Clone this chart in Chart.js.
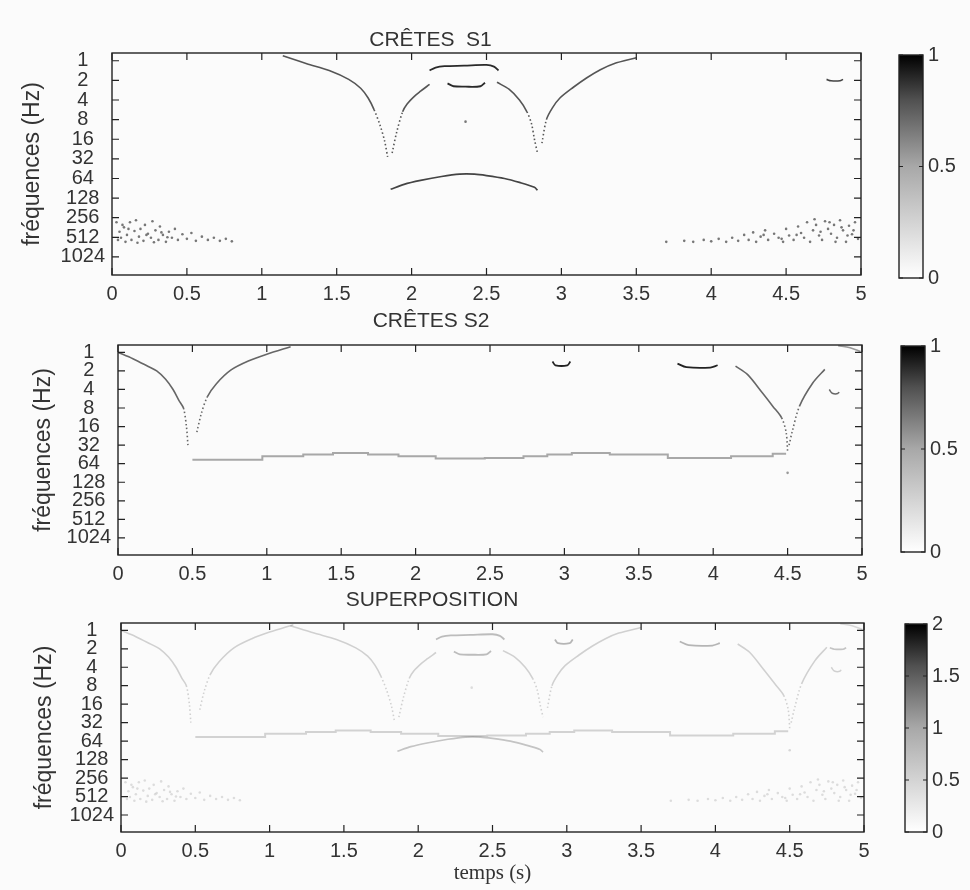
<!DOCTYPE html>
<html>
<head>
<meta charset="utf-8">
<script src="https://cdn.jsdelivr.net/npm/chart.js@4.4.1/dist/chart.umd.min.js"></script>
<style>
  body { margin: 0; background: #fbfbfb; }
  .box { position: absolute; left: 0; top: 0; width: 970px; height: 890px; }
</style>
</head>
<body>
<div class="box"><canvas id="p1"></canvas></div>
<div class="box"><canvas id="c1"></canvas></div>
<div class="box"><canvas id="p2"></canvas></div>
<div class="box"><canvas id="c2"></canvas></div>
<div class="box"><canvas id="p3"></canvas></div>
<div class="box"><canvas id="c3"></canvas></div>
<script>
// axes
const timeTicks = [0, 0.5, 1, 1.5, 2, 2.5, 3, 3.5, 4, 4.5, 5];
const freqTicks = [1, 2, 4, 8, 16, 32, 64, 128, 256, 512, 1024];
const cbTicks1 = [0, 0.5, 1];
const cbTicks3 = [0, 0.5, 1, 1.5, 2];
const fMin = 0.76, fMax = 1937;

// ridges of S1 (time s, frequency Hz)
const s1CuspAT = [1.14, 1.30, 1.45, 1.58, 1.66, 1.71, 1.75, 1.79, 1.82, 1.84];
const s1CuspAF = [0.84, 1.11, 1.41, 1.93, 2.64, 3.73, 5.66, 9.85, 17.1, 29.9];
const s1CuspBT = [1.87, 1.90, 1.94, 1.97, 2.02, 2.06, 2.12];
const s1CuspBF = [26, 12.6, 6.06, 4.6, 3.48, 2.93, 2.3];
const s1TopSegT = [2.12, 2.16, 2.22, 2.35, 2.50, 2.55, 2.58];
const s1TopSegF = [1.41, 1.27, 1.21, 1.19, 1.16, 1.23, 1.41];
const s1MidSegT = [2.24, 2.28, 2.36, 2.46, 2.49];
const s1MidSegF = [2.22, 2.46, 2.5, 2.46, 2.17];
const s1CuspCT = [2.57, 2.65, 2.72, 2.77, 2.80, 2.82, 2.84];
const s1CuspCF = [2.14, 2.73, 4, 6.06, 9.19, 16, 26];
const s1CuspDT = [2.87, 2.90, 2.94, 2.99, 3.08, 3.17, 3.26, 3.35, 3.50];
const s1CuspDF = [18.4, 8, 5.28, 3.73, 2.55, 1.82, 1.37, 1.11, 0.9];
const s1LowArcT = [1.86, 1.95, 2.06, 2.20, 2.32, 2.42, 2.50, 2.62, 2.72, 2.82, 2.84];
const s1LowArcF = [93.7, 78.8, 68.6, 59.7, 55, 55, 57.7, 64, 73.5, 87.4, 97];
const s1HookT = [4.77, 4.80, 4.86, 4.88];
const s1HookF = [1.93, 2.03, 2.03, 1.93];
const s1DotT = [2.36];
const s1DotF = [8.6];
const s1NoiseLT = [0.03, 0.04, 0.05, 0.06, 0.07, 0.08, 0.09, 0.10, 0.11, 0.12, 0.13, 0.15, 0.16, 0.17, 0.18, 0.19, 0.21,
  0.22, 0.23, 0.24, 0.26, 0.27, 0.28, 0.29, 0.31, 0.32, 0.33, 0.34, 0.36, 0.37, 0.38, 0.40, 0.42, 0.44, 0.47, 0.50,
  0.53, 0.56, 0.60, 0.64, 0.68, 0.72, 0.76, 0.80];
const s1NoiseLF = [300, 560, 420, 520, 330, 360, 600, 470, 380, 300, 560, 410, 280, 620, 500, 380, 580,
  330, 470, 450, 520, 290, 610, 400, 560, 350, 430, 470, 600, 510, 420, 520, 380, 560, 460, 540, 440,
  580, 500, 560, 520, 580, 540, 590];
const s1NoiseRT = [3.70, 3.82, 3.88, 3.95, 4.00, 4.05, 4.10, 4.14, 4.18, 4.22, 4.25, 4.28, 4.30, 4.33, 4.36, 4.38, 4.42, 4.45,
  4.48, 4.50, 4.52, 4.55, 4.58, 4.60, 4.62, 4.64, 4.66, 4.68, 4.70, 4.72, 4.74, 4.76, 4.78, 4.80, 4.82, 4.84, 4.86, 4.88,
  4.90, 4.92, 4.94, 4.96, 4.98, 4.69, 4.73, 4.79, 4.83, 4.87, 4.91, 4.95, 4.57, 4.47, 4.35];
const s1NoiseRF = [600, 580, 600, 560, 590, 540, 600, 520, 580, 470, 560, 430, 600, 500, 400, 560, 450, 520,
  600, 380, 480, 560, 350, 440, 520, 300, 600, 400, 330, 480, 560, 290, 380, 450, 330, 520, 280, 400,
  600, 340, 460, 300, 540, 270, 420, 300, 600, 360, 480, 400, 470, 540, 470];

// ridges of S2
const s2CuspAT = [0, 0.10, 0.20, 0.26, 0.32, 0.37, 0.41, 0.44, 0.46, 0.47];
const s2CuspAF = [1, 1.27, 1.68, 2, 2.73, 4, 6.06, 8, 16, 32];
const s2CuspBT = [0.53, 0.56, 0.60, 0.66, 0.76, 0.88, 1.00, 1.16];
const s2CuspBF = [19.7, 9.85, 5.28, 3.25, 1.93, 1.37, 1.07, 0.81];
const s2LineT = [0.5, 0.78, 1.16, 1.33, 1.56, 1.8, 1.97, 2.3, 2.63, 2.82, 2.95, 3.15, 3.46, 3.93, 4.31, 4.49];
const s2LineF = [55, 55, 48.5, 45.3, 42.8, 45.3, 48.5, 52.7, 51.6, 48.5, 45.3, 42.8, 45.3, 51.6, 48.5, 44.3];
const s2SegAT = [2.92, 2.94, 3.02, 3.04];
const s2SegAF = [1.41, 1.62, 1.62, 1.41];
const s2SegBT = [3.76, 3.82, 3.98, 4.03];
const s2SegBF = [1.52, 1.74, 1.77, 1.62];
const s2CuspCT = [4.15, 4.23, 4.33, 4.40, 4.46, 4.49, 4.50];
const s2CuspCF = [1.67, 2.28, 4.53, 7.46, 11.55, 19.7, 39.4];
const s2CuspDT = [4.51, 4.53, 4.58, 4.67, 4.75];
const s2CuspDF = [32, 19.7, 7.46, 3.12, 1.89];
const s2HookT = [4.78, 4.80, 4.84, 4.85];
const s2HookF = [4, 4.6, 4.6, 4];
const s2TopT = [4.84, 4.92, 4.99];
const s2TopF = [0.78, 0.84, 0.97];
const s2DotT = [4.5];
const s2DotF = [90];

function pts(ts, fs) { return ts.map((t, i) => ({ x: t, y: fs[i] })); }

function steep(c) {
  return Math.abs(c.p1.y - c.p0.y) > 2 * Math.abs(c.p1.x - c.p0.x);
}

function ridge(ts, fs, color, width, stepped) {
  return {
    data: pts(ts, fs), showLine: true, borderColor: color, borderWidth: width || 1.6,
    pointRadius: 0, tension: stepped ? 0 : 0.3, stepped: stepped || false,
    segment: { borderDash: c => steep(c) ? [1.5, 2.5] : undefined }
  };
}

function cloud(ts, fs, color) {
  return { data: pts(ts, fs), showLine: false, pointRadius: 1.3, pointBorderWidth: 0, backgroundColor: color };
}

function s1Sets(arc, seg, low, noise) {
  return [
    ridge(s1CuspAT, s1CuspAF, arc), ridge(s1CuspBT, s1CuspBF, arc),
    ridge(s1CuspCT, s1CuspCF, arc), ridge(s1CuspDT, s1CuspDF, arc),
    ridge(s1TopSegT, s1TopSegF, seg, 1.8), ridge(s1MidSegT, s1MidSegF, seg, 1.8),
    ridge(s1LowArcT, s1LowArcF, low, 1.7), ridge(s1HookT, s1HookF, low, 1.6),
    cloud(s1DotT, s1DotF, noise), cloud(s1NoiseLT, s1NoiseLF, noise), cloud(s1NoiseRT, s1NoiseRF, noise)
  ];
}

function s2Sets(arc, line, seg, light) {
  return [
    ridge(s2CuspAT, s2CuspAF, arc), ridge(s2CuspBT, s2CuspBF, arc),
    ridge(s2CuspCT, s2CuspCF, arc), ridge(s2CuspDT, s2CuspDF, arc),
    ridge(s2LineT, s2LineF, line, 2, 'middle'),
    ridge(s2SegAT, s2SegAF, seg, 1.8), ridge(s2SegBT, s2SegBF, seg, 1.8),
    ridge(s2HookT, s2HookF, arc, 1.5), ridge(s2TopT, s2TopF, light, 1.5),
    cloud(s2DotT, s2DotF, light)
  ];
}

// box and inward tick marks
const frame = {
  id: 'frame',
  afterDatasetsDraw(chart, args, opts) {
    const { ctx, chartArea: a, scales } = chart;
    ctx.save();
    ctx.strokeStyle = '#222';
    ctx.lineWidth = 1.4;
    ctx.strokeRect(a.left, a.top, a.right - a.left, a.bottom - a.top);
    ctx.lineWidth = 1.2;
    ctx.beginPath();
    if (opts.x) {
      scales.x.ticks.forEach(t => {
        const p = scales.x.getPixelForValue(t.value);
        ctx.moveTo(p, a.bottom); ctx.lineTo(p, a.bottom - opts.len);
        ctx.moveTo(p, a.top); ctx.lineTo(p, a.top + opts.len);
      });
    }
    scales.y.ticks.forEach(t => {
      const p = scales.y.getPixelForValue(t.value);
      if (opts.left) { ctx.moveTo(a.left, p); ctx.lineTo(a.left + opts.len, p); }
      if (opts.right) { ctx.moveTo(a.right, p); ctx.lineTo(a.right - opts.len, p); }
    });
    ctx.stroke();
    ctx.restore();
  }
};

const sans = 'Liberation Sans, Arial, sans-serif';
const ink = '#333';

function mainChart(id, area, title, titleY, yTitleX, datasets, xH, xTitle) {
  const padTop = titleY - 12.6;
  const gap = area.top - padTop - 25.2;
  return new Chart(document.getElementById(id), {
    type: 'scatter',
    data: { datasets },
    options: {
      responsive: true, maintainAspectRatio: false, animation: false,
      layout: { padding: { left: 0, top: padTop, right: 970 - area.right, bottom: 890 - area.bottom - xH } },
      plugins: {
        legend: { display: false }, tooltip: { enabled: false },
        title: { display: true, text: title, color: ink, font: { family: sans, size: 21, weight: 'normal' }, padding: { top: 0, bottom: gap } },
        frame: { x: true, left: true, right: true, len: 7 }
      },
      scales: {
        x: {
          type: 'linear', min: 0, max: 5,
          afterBuildTicks: s => { s.ticks = timeTicks.map(v => ({ value: v })); },
          afterFit: s => { s.height = xH; },
          grid: { display: false, drawTicks: false }, border: { display: false },
          ticks: { color: ink, font: { family: sans, size: 20 }, padding: 7, maxRotation: 0, autoSkip: false, callback: v => String(v) },
          title: xTitle ? { display: true, text: xTitle, color: ink, font: { family: 'Liberation Serif, serif', size: 21 }, padding: { top: 0, bottom: 1.4 } } : { display: false }
        },
        y: {
          type: 'logarithmic', reverse: true, min: fMin, max: fMax,
          afterBuildTicks: s => { s.ticks = freqTicks.map(v => ({ value: v })); },
          afterFit: s => { s.width = area.left; },
          grid: { display: false, drawTicks: false }, border: { display: false },
          ticks: { color: ink, font: { family: sans, size: 20 }, padding: 7, crossAlign: 'center', autoSkip: false, callback: v => String(v) },
          title: { display: true, text: 'fréquences (Hz)', color: ink, font: { family: sans, size: 23 }, padding: { top: yTitleX - 13.8, bottom: 0 } }
        }
      }
    },
    plugins: [frame]
  });
}

function grayRamp(chart) {
  const a = chart.chartArea;
  if (!a) return '#888';
  const g = chart.ctx.createLinearGradient(0, a.bottom, 0, a.top);
  g.addColorStop(0, '#ffffff');
  g.addColorStop(0.5, '#a8a8a8');
  g.addColorStop(0.8, '#505050');
  g.addColorStop(1, '#000000');
  return g;
}

function colorBar(id, area, ticks) {
  const top = ticks[ticks.length - 1];
  return new Chart(document.getElementById(id), {
    type: 'bar',
    data: { labels: [''], datasets: [{ data: [[0, top]], backgroundColor: c => grayRamp(c.chart), borderWidth: 0, barPercentage: 1, categoryPercentage: 1 }] },
    options: {
      responsive: true, maintainAspectRatio: false, animation: false,
      layout: { padding: { left: area.left, top: area.top, right: 970 - area.right - 45, bottom: 890 - area.bottom } },
      plugins: { legend: { display: false }, tooltip: { enabled: false }, frame: { x: false, left: true, right: true, len: 4 } },
      scales: {
        x: { display: false },
        y: {
          position: 'right', min: 0, max: top,
          afterBuildTicks: s => { s.ticks = ticks.map(v => ({ value: v })); },
          afterFit: s => { s.width = 45; },
          grid: { display: false, drawTicks: false }, border: { display: false },
          ticks: { color: ink, font: { family: sans, size: 20 }, padding: 5, autoSkip: false, callback: v => String(v) }
        }
      }
    },
    plugins: [frame]
  });
}

mainChart('p1', { left: 112, top: 53, right: 861, bottom: 275 }, 'CRÊTES  S1', 40, 33,
  s1Sets('#555', '#2a2a2a', '#444', '#777'), 34);
mainChart('p2', { left: 118, top: 345, right: 862, bottom: 555 }, 'CRÊTES S2', 321, 44,
  s2Sets('#666', '#a8a8a8', '#222', '#999'), 34);
mainChart('p3', { left: 121, top: 623, right: 864, bottom: 832 }, 'SUPERPOSITION', 600, 45,
  s1Sets('rgba(0,0,0,0.17)', 'rgba(0,0,0,0.25)', 'rgba(0,0,0,0.22)', 'rgba(0,0,0,0.12)')
    .concat(s2Sets('rgba(0,0,0,0.17)', 'rgba(0,0,0,0.16)', 'rgba(0,0,0,0.28)', 'rgba(0,0,0,0.14)')), 55, 'temps (s)');

colorBar('c1', { left: 899, top: 55, right: 923, bottom: 278 }, cbTicks1);
colorBar('c2', { left: 901, top: 346, right: 925, bottom: 552 }, cbTicks1);
colorBar('c3', { left: 905, top: 624, right: 927, bottom: 832 }, cbTicks3);
</script>
</body>
</html>
